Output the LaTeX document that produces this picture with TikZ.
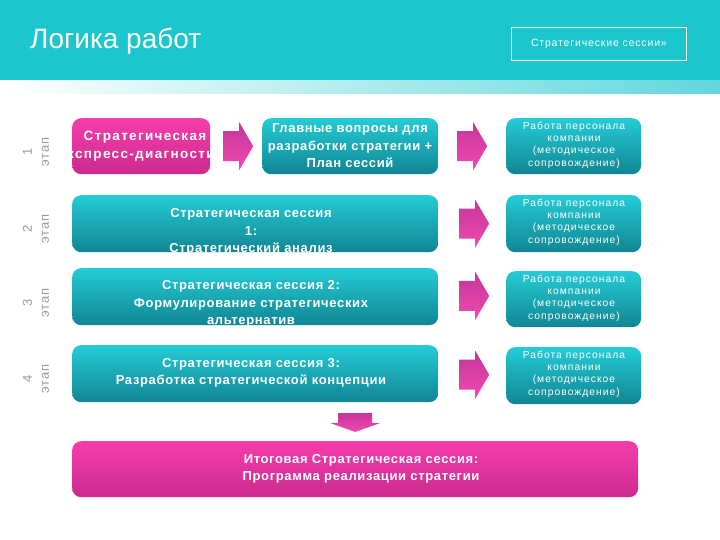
\documentclass[tikz,border=0pt]{standalone}
\usepackage{fontspec}
\setmainfont{Liberation Sans}
\usetikzlibrary{calc}
\definecolor{band}{HTML}{1CC6CD}
\definecolor{tealtop}{HTML}{24CCD5}
\definecolor{tealbot}{HTML}{118594}
\definecolor{pinktop}{HTML}{F53DAC}
\definecolor{pinkbot}{HTML}{CC2A8F}
\definecolor{arrtop}{HTML}{C4369A}
\definecolor{arrbot}{HTML}{F04AB0}
\definecolor{stagegray}{HTML}{9A9A9A}
\tikzset{
 rarrow/.pic={\path[arrowfill] (-15,-15) -- (1,-15) -- (1,-24) -- (15,0) -- (1,24) -- (1,15) -- (-15,15) -- cycle;},
 darrow/.pic={\path[arrowfill] (-17,-9) -- (17,-9) -- (17,1) -- (25,1) -- (0,10) -- (-25,1) -- (-17,1) -- cycle;}
}
\begin{document}
\begin{tikzpicture}[x=1pt,y=-1pt,
 box/.style={rounded corners=9pt, inner sep=0pt, anchor=north west},
 tealbox/.style={box, top color=tealtop, bottom color=tealbot},
 pinkbox/.style={box, top color=pinktop, bottom color=pinkbot},
 btxt/.style={text=white, font=\fontsize{13}{17.5}\selectfont\bfseries\addfontfeatures{LetterSpace=5}, align=center, inner sep=0pt},
 stxt/.style={text=white, font=\fontsize{10.3}{12.2}\selectfont\addfontfeatures{LetterSpace=10}, align=center, inner sep=0pt},
 stage/.style={text=stagegray, font=\fontsize{13}{17}\selectfont\addfontfeatures{LetterSpace=8}, align=center, rotate=90, inner sep=0pt},
 arrowfill/.style={top color=arrtop, bottom color=arrbot},
 clipbox/.style={rounded corners=9pt}
]
\useasboundingbox (0,0) rectangle (720,540);
\fill[white] (0,0) rectangle (720,540);
% header
\fill[band] (0,0) rectangle (720,81);
\shade[left color=white, right color=band!70!white] (0,81) rectangle (720,94);
\node[anchor=west, text=white, font=\fontsize{28}{30}\selectfont, inner sep=0pt] (title) at (30,41) {Логика работ};
\node[draw=white, line width=0.8pt, minimum width=175pt, minimum height=33pt, anchor=north west, text=white, font=\fontsize{10.5}{12}\selectfont\addfontfeatures{LetterSpace=8}] (ses) at (511,27) {Стратегические сессии»};
% stage labels
\node[stage] (s1) at (36,152) {1\\этап};
\node[stage] (s2) at (36,229) {2\\этап};
\node[stage] (s3) at (36,303) {3\\этап};
\node[stage] (s4) at (36,379) {4\\этап};
% row 1
\node[pinkbox, minimum width=138pt, minimum height=56pt] (p1) at (72,118) {};
\begin{scope}
\clip[clipbox] (p1.north west) rectangle (p1.south east);
\node[btxt, font=\fontsize{13.5}{17.5}\selectfont\bfseries\addfontfeatures{LetterSpace=10}] (p1t) at (145,146) {Стратегическая\\экспресс-диагностика};
\end{scope}
\node[tealbox, minimum width=176pt, minimum height=56pt] (t1) at (262,118) {};
\node[btxt] (t1t) at (350,146) {Главные вопросы для\\разработки стратегии +\\План сессий};
\node[tealbox, minimum width=135pt, minimum height=56pt] (r1) at (506,118) {};
\node[stxt] (r1t) at (574,145) {Работа персонала\\компании\\(методическое\\сопровождение)};
% row 2
\node[tealbox, minimum width=366pt, minimum height=57pt] (t2) at (72,195) {};
\begin{scope}
\clip[clipbox] (t2.north west) rectangle (t2.south east);
\node[btxt] (t2t) at (251,232) {Стратегическая сессия\\1:\\Стратегический анализ};
\end{scope}
\node[tealbox, minimum width=135pt, minimum height=57pt] (r2) at (506,195) {};
\node[stxt] (r2t) at (574,222) {Работа персонала\\компании\\(методическое\\сопровождение)};
% row 3
\node[tealbox, minimum width=366pt, minimum height=57pt] (t3) at (72,268) {};
\begin{scope}
\clip[clipbox] (t3.north west) rectangle (t3.south east);
\node[btxt] (t3t) at (251,304) {Стратегическая сессия 2:\\Формулирование стратегических\\альтернатив};
\end{scope}
\node[tealbox, minimum width=135pt, minimum height=56pt] (r3) at (506,271) {};
\node[stxt] (r3t) at (574,298) {Работа персонала\\компании\\(методическое\\сопровождение)};
% row 4
\node[tealbox, minimum width=366pt, minimum height=57pt] (t4) at (72,345) {};
\node[btxt] (t4t) at (251,373) {Стратегическая сессия 3:\\Разработка стратегической концепции};
\node[tealbox, minimum width=135pt, minimum height=57pt] (r4) at (506,347) {};
\node[stxt] (r4t) at (574,374) {Работа персонала\\компании\\(методическое\\сопровождение)};
% final
\node[pinkbox, minimum width=566pt, minimum height=56pt] (fin) at (72,441) {};
\node[btxt] (fint) at (361,469) {Итоговая Стратегическая сессия:\\Программа реализации стратегии};
% arrows
\pic at ($($(p1.east)!0.5!(t1.west)$)+(2,0)$) {rarrow};
\pic at ($(t1.east)!0.5!(r1.west)$) {rarrow};
\pic at ($($(t2.east)!0.5!(r2.west)$)+(2,0)$) {rarrow};
\pic at ($($(t3.east)!0.5!(r3.west)$)+(2,-2)$) {rarrow};
\pic at ($($(t4.east)!0.5!(r4.west)$)+(2,0)$) {rarrow};
\pic at ($(fin.north)+(0,-19)$) {darrow};
\end{tikzpicture}
\end{document}
